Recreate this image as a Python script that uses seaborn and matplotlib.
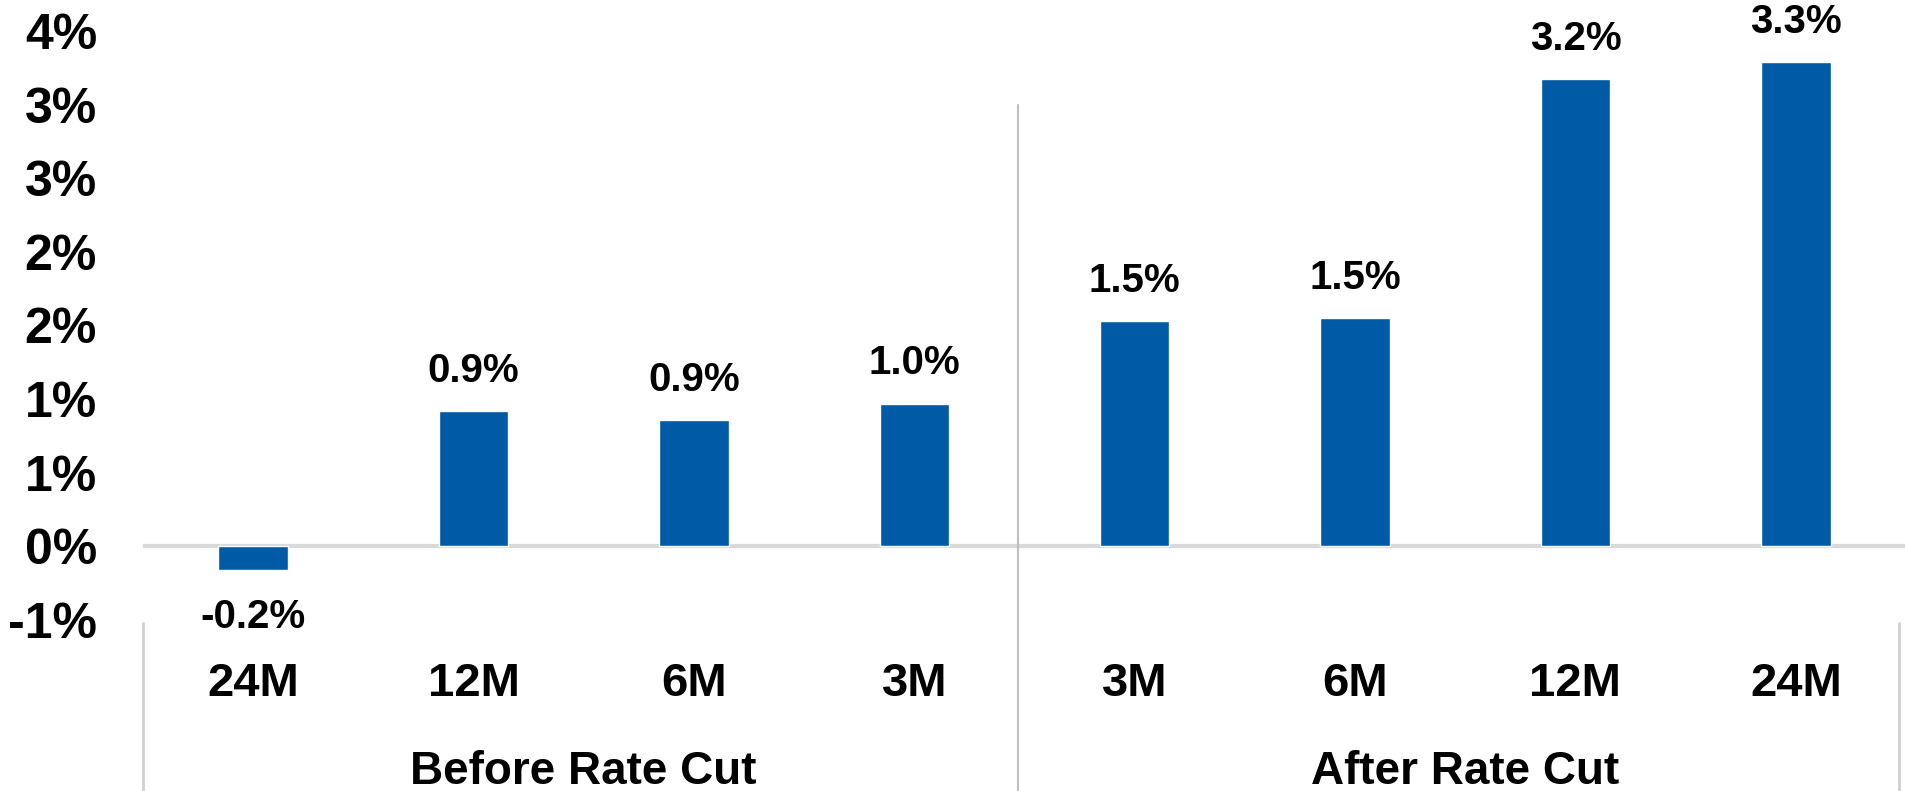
import math
import numpy as np
import pandas as pd
import seaborn as sns
import matplotlib
matplotlib.use("Agg")
import matplotlib.pyplot as plt
from matplotlib.ticker import FuncFormatter, MultipleLocator

# data
groups = ["Before Rate Cut"] * 4 + ["After Rate Cut"] * 4
periods = ["24M", "12M", "6M", "3M", "3M", "6M", "12M", "24M"]
returns = [-0.16, 0.92, 0.86, 0.97, 1.53, 1.55, 3.17, 3.29]
labels = ["-0.2%", "0.9%", "0.9%", "1.0%", "1.5%", "1.5%", "3.2%", "3.3%"]

df = pd.DataFrame({"group": groups, "period": periods, "ret": returns})
df["key"] = [f"{g} {p}" for g, p in zip(groups, periods)]

sns.set_theme(style="white")
plt.rcParams["font.family"] = ["Liberation Sans", "DejaVu Sans"]
plt.rcParams["font.weight"] = "bold"
plt.rcParams["text.color"] = "black"
plt.rcParams["xtick.color"] = "black"
plt.rcParams["ytick.color"] = "black"

fig = plt.figure(figsize=(19.06, 7.91), dpi=100)
ax = fig.add_axes([0.075, 0.216, 0.925, 0.745])

sns.barplot(data=df, x="key", y="ret", color="#005AA5", saturation=1,
            width=0.315, ax=ax)

ax.set_xlim(-0.5, 7.5)
ax.set_ylim(-0.5, 3.5)
ax.yaxis.set_major_locator(MultipleLocator(0.5))


def pct(v, _):
    r = math.floor(abs(v) + 0.5 + 1e-9)
    s = "-" if v < -1e-9 else ""
    return f"{s}{r}%"


ax.yaxis.set_major_formatter(FuncFormatter(pct))
ax.tick_params(axis="y", labelsize=36, pad=33, length=0, labelcolor="black")
ax.set_xticks(range(len(periods)))
ax.set_xticklabels(periods, fontsize=34, fontweight="bold")
ax.tick_params(axis="x", pad=30, length=0, labelcolor="black")
for t in ax.get_yticklabels():
    t.set_fontweight("bold")

ax.set_xlabel("")
ax.set_ylabel("")
for s in ax.spines.values():
    s.set_visible(False)

# zero line
ax.axhline(0, color="#d9d9d9", lw=3, zorder=0)

# value labels
for i, (v, lab) in enumerate(zip(returns, labels)):
    off = 29 if v >= 0 else -34
    ax.annotate(lab, (i, v), xytext=(0, off), textcoords="offset points",
                ha="center", va="center", fontsize=29, fontweight="bold",
                color="black", annotation_clip=False)

# group labels and separators
ax.text(1.5, -1.53, "Before Rate Cut", ha="center", va="center",
        fontsize=33, fontweight="bold", color="black", clip_on=False)
ax.text(5.5, -1.53, "After Rate Cut", ha="center", va="center",
        fontsize=33, fontweight="bold", color="black", clip_on=False)
ax.plot([3.47, 3.47], [3.0, -1.7], color="#bfbfbf", lw=1.5, clip_on=False)
ax.plot([-0.5, -0.5], [-0.52, -1.7], color="#d0d0d0", lw=2, clip_on=False)
ax.plot([7.47, 7.47], [-0.52, -1.7], color="#d0d0d0", lw=2, clip_on=False)

fig.savefig("out.png", dpi=100)
